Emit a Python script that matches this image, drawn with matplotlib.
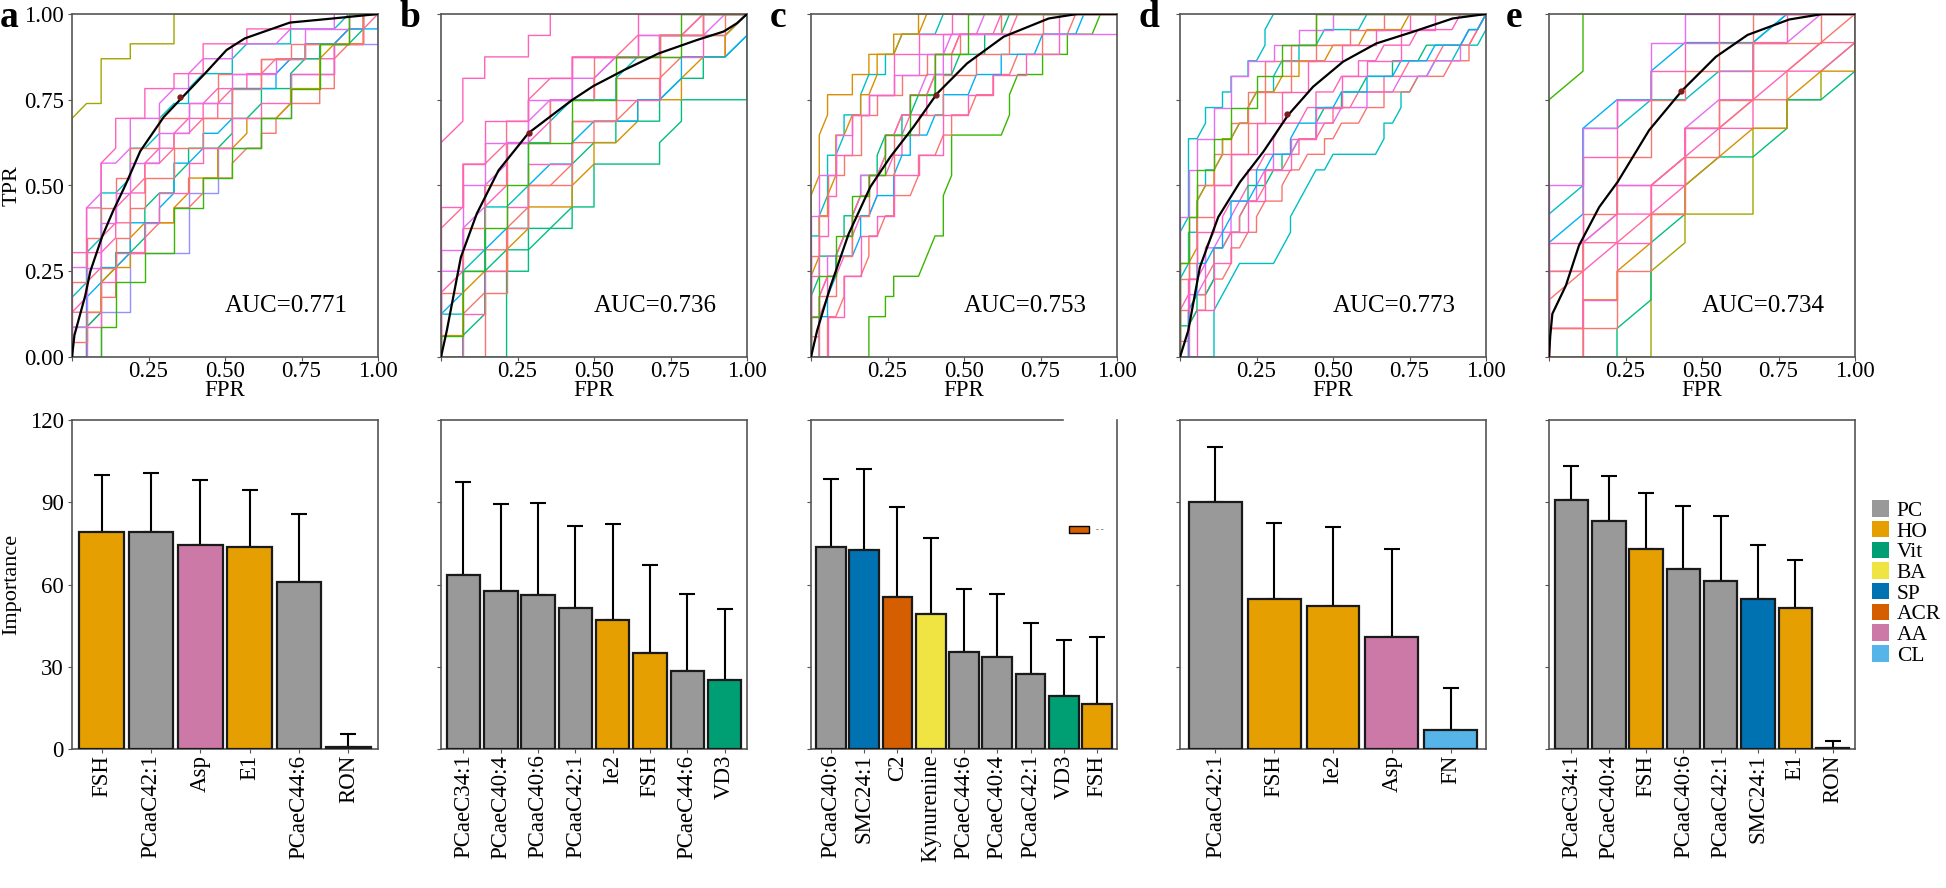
import numpy as np
import matplotlib
matplotlib.use('Agg')
import matplotlib.pyplot as plt
from matplotlib.patches import Patch

plt.rcParams['font.family'] = ['Liberation Serif', 'DejaVu Serif']

# ---- data ----
panels = ['a', 'b', 'c', 'd', 'e']
auc = [0.771, 0.736, 0.753, 0.773, 0.734]
# number of FPR / TPR steps of the single-fold curves
steps = [(21, 23), (14, 16), (37, 17), (36, 22), (9, 12)]

# single-fold ROC paths: U = up, R = right, D = diagonal (optional count)
folds_a = ["U16 D R U3 R2 U1 R3 U2 R14",
           "R2 U3 R2 U4 R4 U4 R2 U3 R3 U2 R2 U3 R3 U2 R3 U2",
           "U3 D U3 R D U2 D R U2 D R U1 D R U1 D R2 U1 R2 D R3 U1 D R U1 R",
           "R U2 D U1 R U2 D R U1 D R U1 R D U1 R2 U1 D R U1 R U1 D R2 U1 R U2 D R U2 R",
           "U4 D U2 D U3 R D U2 R D U1 D R U1 D R2 U1 D R3 U1 R3 D R2",
           "U2 R D U2 D U1 R D U2 D R U1 D U1 R2 D U1 R D U1 R2 U1 D R U1 R2 D U1 R",
           "U6 R U4 D U2 R D U2 R2 U1 D R U1 D R2 U1 R3 D R3 U1 R3",
           "R U3 R U2 D R U2 D R2 U1 D U1 R2 U2 R D U1 R2 D U1 R2 U2 D R2 U2 R",
           "U3 R U2 D U2 D R U2 D U1 R D U1 R D R U1 D R2 U1 D R2 U1 R2 D R D",
           "R U4 D U1 R D U2 R2 U1 D U2 R D U1 R D U2 R3 U1 D R U1 R2 D R2 U1",
           "U5 R U3 R U2 R U2 R U2 R2 U2 R2 U1 R2 U2 R3 U1 R2 U1 R4 U2 R2",
           "R U2 R U3 R U2 R2 U2 R U2 R2 U2 R U1 R2 U2 R2 U1 R2 U2 R3 U2 R2 U2 R",
           "U2 R U4 R U3 R U2 R U2 R2 U2 R2 U2 R3 U2 R3 U1 R2 U2 R3 U1 R2",
           "U1 R U2 R U3 R U2 R U2 R U2 R2 U2 R2 U2 R2 U2 R2 U2 R3 U1 R4 U2 R",
           "U7 R U3 R U3 D U2 R2 U2 R2 U1 R2 U2 R3 U1 R3 U1 R6",
           "R2 U2 R U3 R2 U2 R2 U3 R2 U2 R2 U2 R2 U2 R2 U2 R2 U3 R2 U2 R2"]
folds_b = ["U10 D U2 R U1 R2 U1 R U1 R9",
           "R3 U4 R U1 D R U1 R U2 R3 U1 D U1 R3 U4",
           "U3 D U1 R U2 D U2 R D U1 R2 U1 D R2 U1 R D R2",
           "R U2 D U2 R U1 D U1 R D U1 R U1 R D R U1 D R2 U1 D",
           "U2 R U2 D U2 R D U2 R U1 D R2 U1 D R U1 R3 D",
           "R U1 D U2 D R U1 R D U2 D R U1 R2 U1 D R U1 R D U1",
           "U4 R U2 D U1 D U1 R U1 D R U1 R D R2 U1 R2 D R",
           "U1 R U2 D R U1 D U1 R2 U1 D U1 R D U1 R2 U1 D R U1 D",
           "U6 D U2 R D U1 R U1 D R U1 R2 D R2 D R2",
           "U2 D U1 R U1 D R U2 D R U1 D R2 U1 R D U1 R2 D U1",
           "U3 R U3 R U2 R U2 R2 U2 R2 U2 R3 U1 R3 U1 R",
           "R U2 R U2 R U3 R U2 R2 U2 R2 U1 R2 U2 R2 U2 R2",
           "U5 R U3 R U2 R2 U2 R2 U2 R3 U1 R3 U1 R2",
           "R2 U3 R U3 R U2 R2 U3 R2 U2 R2 U2 R2 U1 R2",
           "U7 R U2 R U2 R2 U2 R2 U1 R3 U2 R5",
           "U1 R U3 R U2 R U2 R U2 R2 U2 R2 U2 R3 U2 R3"]
folds_c = ["U8 D U2 D U1 R3 U1 R2 U1 R3 U1 R3 U1 R24",
           "R7 U2 R2 U1 R U1 R3 D D R U2 D U2 R6 D U1 D R3 U1 R3 U1 R3 D R2",
           "U2 R D U1 R D R U1 D R D U1 R D R U1 D R2 U1 D R2 U1 D R4 D R14",
           "R2 U2 R D U1 R2 D U1 R D R U1 R2 D U1 R2 D R U1 R2 D R2 U1 R2 D R3 U1 R3 D R5",
           "U6 R U1 D U2 R D U1 R2 U1 D R2 U1 R D R4 D R21",
           "U3 D U1 R2 D U1 R D U1 R2 U1 D R2 U1 R D R2 U1 R2 D R3 U1 R2 D R13",
           "R U3 D U1 R D R U1 D U1 R2 D U1 R D R U1 R D R2 U1 D R3 D R16",
           "U4 D U2 R U1 D U2 R D R U1 R D U1 R2 D R2 D R23",
           "U1 R U2 D R U1 D R U1 D R U1 R D U1 R D R U1 R2 D U1 R2 D R6 D R12",
           "R U2 R U1 D U1 R2 D U1 R D R2 U1 D R U1 R2 D R U1 R3 D R3 U1 R4 D R4 D R4",
           "U5 R U2 R U2 R2 U1 R2 U2 R2 U1 R3 U1 R3 U1 R4 U1 R5 U1 R14",
           "R2 U2 R2 U2 R2 U2 R2 U1 R2 U2 R3 U1 R3 U2 R3 U1 R3 U1 R4 U1 R4 U2 R7",
           "U7 R U2 R2 U2 R2 U1 R2 U1 R3 U1 R3 U1 R3 U1 R21",
           "R U3 R2 U2 R2 U2 R2 U2 R3 U2 R3 U1 R3 U2 R4 U1 R4 U1 R4 U1 R9",
           "U4 R U2 R U2 R U2 R2 U2 R2 U1 R3 U2 R3 U1 R4 U1 R20",
           "U2 R U2 R2 U2 R2 U2 R2 U1 R2 U2 R3 U2 R3 U2 R4 U2 R18"]
folds_d = ["U8 D U5 R D U1 R2 U1 R U1 R2 U1 R D U1 D R25",
           "R4 U3 D D D R4 D D U1 D D D R D R5 D U1 R D U1 R D R D R2 D R2 D U1",
           "U3 D U1 R D U1 D R U1 D R D U1 R D R U1 D R2 D R U1 R2 D R2 U1 R2 D R3 D R4 D R3",
           "R U2 D R U1 D R D U1 R D R U1 D R2 U1 D R D R2 U1 R D R2 D R2 U1 R3 D R3 D R2 U1 D D",
           "U5 D U2 R U2 D U1 R D U1 R D R U1 D R2 U1 D R2 U1 R2 D R4 D R14",
           "U2 R D U1 R D U2 R D R U1 D U1 R2 D R U1 R D R2 U1 D R2 U1 R2 D R3 U1 R3 D R4 D R D",
           "R U4 R D U2 R D R U1 D R2 U1 D R U1 R2 D R2 U1 R2 D R3 U1 R3 D R3 D R3 U1 D R D",
           "U6 R D U3 D R U1 D U1 R D R U1 D R2 D R2 U1 R3 D R3 D R4 D R9",
           "U1 R U2 D R U1 D U1 R D R U1 D R D U1 R2 D R U1 R2 D R U1 R2 D R3 U1 R2 D R3 D R3 D D",
           "R U3 D U2 R D R U1 D U1 R2 D U1 R D R2 U1 D R2 U1 R2 D R3 U1 R3 D R3 D R3 D R D",
           "U5 R U4 R U2 R2 U2 R2 U2 R2 U2 R2 U2 R3 U1 R3 U2 R4 U1 R4 U1 R12",
           "R2 U3 R2 U3 R2 U2 R2 U2 R2 U2 R3 U2 R3 U2 R3 U2 R3 U1 R4 U2 R4 U1 R6",
           "U9 R U3 R U2 R2 U2 R2 U2 R2 U1 R3 U1 R3 U1 R4 U1 R18",
           "U3 R U3 R U3 R2 U2 R2 U2 R2 U2 R2 U2 R3 U2 R3 U1 R4 U1 R4 U1 R12",
           "R U5 R U3 R2 U3 R2 U2 R3 U2 R3 U2 R3 U2 R4 U1 R4 U1 R4 U1 R9",
           "U6 R U3 R U3 R2 U2 R2 U2 R3 U2 R3 U2 R4 U2 R20"]
folds_e = ["U9 D U2 R8",
           "R3 U3 D U1 R2 U3 R U1 R U1 D U1",
           "U1 R U2 D U1 R D U1 D R U1 D R D U1",
           "U2 D U1 D U1 R D U1 R D R U1 D D",
           "U5 D U2 R D R D R U1 D R2",
           "R2 U1 D U2 D U1 D R D U1 R D U2",
           "U3 R U1 D U1 R D U1 D R U2 R D R",
           "R U2 R U1 D U1 R U1 D D R U1 D R U2",
           "U1 R U3 R D U1 D U1 R D U1 R D R U1",
           "U4 D U3 D R U1 D R2 D R2",
           "U3 R U2 R U2 R U2 R U1 R U1 R U1 R3",
           "R U2 R U2 R U2 R U2 R U2 R U1 R U1 R3",
           "U6 R U2 R U1 R U2 R U1 R5",
           "U1 R2 U2 R U2 R U2 R U2 R U2 R2 U1 R",
           "U4 R U3 R U2 R U1 R U1 R U1 R4"]
folds = [folds_a, folds_b, folds_c, folds_d, folds_e]

# mean ROC curves
mean_fpr_a = [0, 0.008, 0.043, 0.06, 0.098, 0.134, 0.174, 0.223, 0.30, 0.353, 0.435, 0.505, 0.565, 0.712, 0.853, 1.0]
mean_tpr_a = [0, 0.064, 0.178, 0.25, 0.35, 0.425, 0.5, 0.6, 0.7, 0.75, 0.827, 0.895, 0.929, 0.975, 0.987, 1.0]
mean_fpr_b = [0, 0.019, 0.065, 0.117, 0.188, 0.286, 0.428, 0.498, 0.597, 0.711, 0.836, 0.924, 0.967, 1.0]
mean_tpr_b = [0, 0.077, 0.291, 0.418, 0.544, 0.653, 0.749, 0.79, 0.836, 0.885, 0.924, 0.949, 0.973, 1.0]
mean_fpr_c = [0, 0.02, 0.063, 0.123, 0.194, 0.259, 0.335, 0.412, 0.51, 0.63, 0.777, 0.87, 1.0]
mean_tpr_c = [0, 0.077, 0.204, 0.359, 0.496, 0.583, 0.671, 0.768, 0.856, 0.934, 0.987, 1.0, 1.0]
mean_fpr_d = [0, 0.027, 0.065, 0.125, 0.196, 0.272, 0.353, 0.435, 0.533, 0.641, 0.761, 0.891, 1.0]
mean_tpr_d = [0, 0.077, 0.262, 0.408, 0.51, 0.598, 0.705, 0.788, 0.861, 0.914, 0.948, 0.987, 1.0]
mean_fpr_e = [0, 0.004, 0.011, 0.055, 0.098, 0.164, 0.224, 0.327, 0.436, 0.545, 0.649, 0.785, 0.894, 1.0]
mean_tpr_e = [0, 0.06, 0.126, 0.208, 0.325, 0.437, 0.51, 0.661, 0.778, 0.875, 0.939, 0.984, 1.0, 1.0]
mean_fpr = [mean_fpr_a, mean_fpr_b, mean_fpr_c, mean_fpr_d, mean_fpr_e]
mean_tpr = [mean_tpr_a, mean_tpr_b, mean_tpr_c, mean_tpr_d, mean_tpr_e]
cut_fpr = [0.353, 0.286, 0.408, 0.351, 0.431]
cut_tpr = [0.758, 0.653, 0.765, 0.707, 0.776]

# feature importance
feat_a = ['FSH', 'PCaaC42:1', 'Asp', 'E1', 'PCaeC44:6', 'RON']
imp_a = [79.1, 79.1, 74.5, 73.7, 60.9, 0.7]
sd_a = [20.9, 21.6, 23.6, 20.8, 24.7, 4.9]
cls_a = ['HO', 'PC', 'AA', 'HO', 'PC', 'Vit']

feat_b = ['PCaeC34:1', 'PCaeC40:4', 'PCaaC40:6', 'PCaaC42:1', 'Ie2', 'FSH', 'PCaeC44:6', 'VD3']
imp_b = [63.4, 57.7, 56.2, 51.4, 47.1, 35.0, 28.4, 25.3]
sd_b = [33.9, 31.6, 33.6, 29.9, 34.9, 32.2, 28.3, 25.7]
cls_b = ['PC', 'PC', 'PC', 'PC', 'HO', 'HO', 'PC', 'Vit']

feat_c = ['PCaaC40:6', 'SMC24:1', 'C2', 'Kynurenine', 'PCaeC44:6', 'PCaeC40:4', 'PCaaC42:1', 'VD3', 'FSH']
imp_c = [73.5, 72.5, 55.3, 49.3, 35.5, 33.5, 27.2, 19.4, 16.3]
sd_c = [24.9, 29.8, 33.1, 27.5, 22.9, 23.2, 18.8, 20.2, 24.6]
cls_c = ['PC', 'SP', 'ACR', 'BA', 'PC', 'PC', 'PC', 'Vit', 'HO']

feat_d = ['PCaaC42:1', 'FSH', 'Ie2', 'Asp', 'FN']
imp_d = [90.2, 54.7, 52.1, 40.8, 6.8]
sd_d = [19.8, 27.8, 28.9, 32.3, 15.5]
cls_d = ['PC', 'HO', 'HO', 'AA', 'CL']

feat_e = ['PCaeC34:1', 'PCaeC40:4', 'FSH', 'PCaaC40:6', 'PCaaC42:1', 'SMC24:1', 'E1', 'RON']
imp_e = [90.7, 83.2, 72.8, 65.5, 61.3, 54.7, 51.3, 0.5]
sd_e = [12.7, 16.5, 20.5, 23.3, 23.7, 19.6, 17.6, 2.4]
cls_e = ['PC', 'PC', 'HO', 'PC', 'PC', 'SP', 'HO', 'Vit']

feats = [feat_a, feat_b, feat_c, feat_d, feat_e]
imps = [imp_a, imp_b, imp_c, imp_d, imp_e]
sds = [sd_a, sd_b, sd_c, sd_d, sd_e]
clss = [cls_a, cls_b, cls_c, cls_d, cls_e]

classes = ['PC', 'HO', 'Vit', 'BA', 'SP', 'ACR', 'AA', 'CL']
class_colors = {'PC': '#999999', 'HO': '#E69F00', 'Vit': '#009E73', 'BA': '#F0E442',
                'SP': '#0072B2', 'ACR': '#D55E00', 'AA': '#CC79A7', 'CL': '#56B4E9'}
fold_colors = ['#A3A500', '#9590FF', '#FF62BC', '#F8766D', '#00BFC4',
               '#00BF7D', '#E76BF3', '#D89000', '#FF6C91', '#00B0F6',
               '#F8766D', '#FF62BC', '#E76BF3', '#F8766D', '#FF62BC', '#39B600']
# colours of the outermost fold curves in each panel
upper_colors = ['#A3A500', '#FF62BC', '#D89000', '#00BFC4', '#39B600']
lower_colors = ['#9590FF', '#00BF7D', '#39B600', '#00BFC4', '#A3A500']


def walk(path, nx, ny):
    x, y = 0, 0
    xs, ys = [0], [0]
    for tok in path.split():
        k = tok[0]
        n = int(tok[1:]) if len(tok) > 1 else 1
        if k in 'RD':
            x += n
        if k in 'UD':
            y += n
        xs.append(x)
        ys.append(y)
    return np.minimum(np.array(xs) / nx, 1), np.minimum(np.array(ys) / ny, 1)


W, H = 1946, 888
fig = plt.figure(figsize=(W / 100, H / 100), dpi=100)

lefts = [72, 441, 811, 1180, 1549]
aw = 306
spine_c = '#555555'
letter_x = [0, 400, 770, 1138, 1506]
fs = 16.5

for i in range(5):
    # ---- ROC panel ----
    ax = fig.add_axes([lefts[i] / W, 1 - 357 / H, aw / W, 343 / H])
    nx, ny = steps[i]
    for j, p in enumerate(folds[i]):
        fx, fy = walk(p, nx, ny)
        c = fold_colors[j % len(fold_colors)]
        if j == 0:
            c = upper_colors[i]
        elif j == 1:
            c = lower_colors[i]
        ax.plot(fx, fy, color=c, lw=1.0)
    ax.plot(mean_fpr[i], mean_tpr[i], color='black', lw=1.6, zorder=5)
    ax.plot(cut_fpr[i], cut_tpr[i], 'o', color='#7B1B1B', ms=3.5, zorder=6)
    ax.set_xlim(0, 1)
    ax.set_ylim(0, 1)
    ax.set_xticks([0, 0.25, 0.5, 0.75, 1.0])
    ax.set_xticklabels(['', '0.25', '0.50', '0.75', '1.00'])
    ax.set_yticks([0, 0.25, 0.5, 0.75, 1.0])
    if i == 0:
        ax.set_yticklabels(['0.00', '0.25', '0.50', '0.75', '1.00'])
        ax.set_ylabel('TPR', fontsize=16)
        ax.yaxis.set_label_coords(-0.165, 0.5)
    else:
        ax.set_yticklabels([])
    ax.set_xlabel('FPR', fontsize=fs)
    ax.xaxis.set_label_coords(0.5, -0.068)
    ax.tick_params(length=3, width=0.8, color=spine_c, labelsize=fs)
    ax.tick_params(axis='x', pad=0)
    ax.tick_params(axis='y', pad=3)
    for s in ax.spines.values():
        s.set_color(spine_c)
        s.set_linewidth(1.2)
    ax.text(0.70, 0.15, 'AUC=%.3f' % auc[i], transform=ax.transAxes,
            ha='center', va='center', fontsize=18)
    fig.text(letter_x[i] / W, 1 - 0 / H, panels[i], fontsize=27,
             fontweight='bold', ha='left', va='top')

    # ---- importance panel ----
    bx = fig.add_axes([lefts[i] / W, 1 - 749 / H, aw / W, 329 / H])
    n = len(feats[i])
    pos = np.arange(n)
    cols = [class_colors[c] for c in clss[i]]
    bx.errorbar(pos, imps[i], yerr=[np.zeros(n), sds[i]], fmt='none',
                ecolor='black', elinewidth=1.5, capsize=5.5, capthick=1.5, zorder=2)
    bx.bar(pos, imps[i], width=0.9, color=cols, edgecolor='#1a1a1a',
           linewidth=1.6, zorder=3)
    bx.set_xlim(-0.6, n - 0.4)
    bx.set_ylim(0, 120)
    bx.set_yticks([0, 30, 60, 90, 120])
    bx.set_xticks(pos)
    bx.set_xticklabels(feats[i], rotation=90, ha='center', va='top')
    if i == 0:
        bx.set_ylabel('Importance', fontsize=16)
        bx.yaxis.set_label_coords(-0.165, 0.5)
    else:
        bx.set_yticklabels([])
    bx.tick_params(length=3, width=0.8, color=spine_c, labelsize=fs)
    bx.tick_params(axis='x', pad=1)
    bx.tick_params(axis='y', pad=3)
    for s in bx.spines.values():
        s.set_color(spine_c)
        s.set_linewidth(1.2)
    if i == 2:
        # stray legend fragment in the original
        bx.spines['top'].set_bounds(-0.6, 6.98)
        bx.legend(handles=[Patch(facecolor=class_colors['ACR'], edgecolor='black', lw=1)],
                  labels=['- -'], frameon=False, loc='center',
                  bbox_to_anchor=(0.90, 0.665), fontsize=6, handlelength=2.4,
                  handleheight=0.8, handletextpad=0.8, labelcolor='#444444')

handles = [Patch(facecolor=class_colors[c], edgecolor='none') for c in classes]
fig.legend(handles, classes, loc='center left', bbox_to_anchor=(1872 / W, 1 - 583 / H),
           frameon=False, fontsize=15.5, handlelength=0.8, handleheight=0.8,
           handletextpad=0.35, labelspacing=0.0, borderpad=0, borderaxespad=0)

fig.savefig('out.png', dpi=100)
